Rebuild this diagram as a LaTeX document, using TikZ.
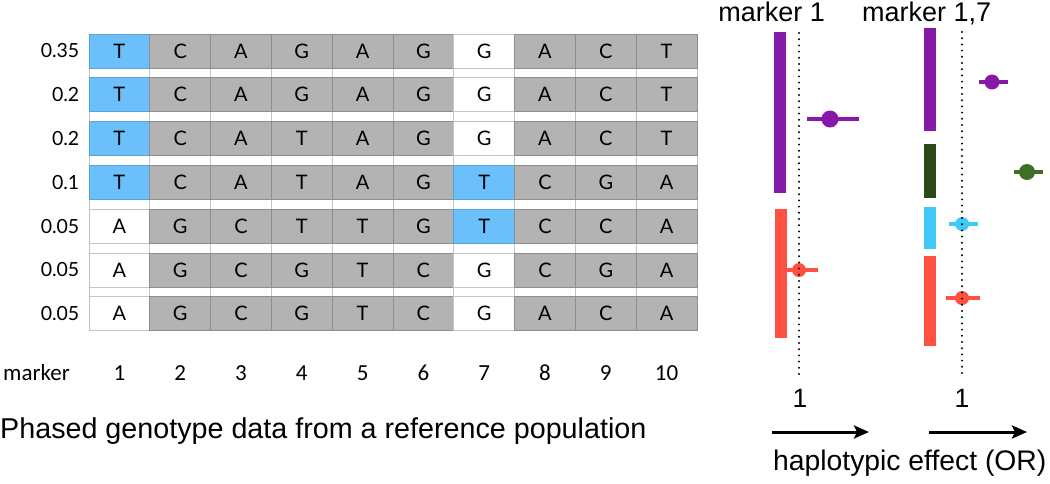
\documentclass[tikz,border=0pt]{standalone}
\usepackage{fontspec}
\setmainfont{Liberation Sans}
\newfontfamily\cellfont{Lato}
\newfontfamily\calfont{Carlito}
\usetikzlibrary{arrows.meta}
\definecolor{cgray}{HTML}{B3B3B3}
\definecolor{cgrayd}{HTML}{8E8E8E}
\definecolor{cblue}{HTML}{6BBFFA}
\definecolor{cblued}{HTML}{5AA3D6}
\definecolor{cwhited}{HTML}{C4C4C4}
\definecolor{hpurple}{HTML}{8619A8}
\definecolor{hdgreen}{HTML}{2C4A18}
\definecolor{hgreen}{HTML}{3F6E24}
\definecolor{hcyan}{HTML}{42C8F7}
\definecolor{hred}{HTML}{FF5142}
\tikzset{
  cellbase/.style={minimum width=60.8pt, minimum height=34pt, inner sep=0pt, outer sep=0pt,
    line width=0.8pt, font=\cellfont\fontsize{20}{22}\selectfont},
  cellg/.style={cellbase, fill=cgray, draw=cgrayd},
  cellb/.style={cellbase, fill=cblue, draw=cblued},
  cellw/.style={cellbase, fill=white, draw=cwhited},
  gapcell/.style={draw=cwhited, fill=white, line width=0.7pt},
  freq/.style={anchor=east, inner sep=0pt, font=\cellfont\fontsize{19.5}{21}\selectfont},
  mklab/.style={anchor=base, inner sep=0pt, font=\calfont\fontsize{23}{25}\selectfont},
  hbar/.style={minimum width=12pt, inner sep=0pt, outer sep=0pt},
  ci/.style={line width=3.5pt},
  dotline/.style={line width=2.2pt, line cap=round, dash pattern=on 0pt off 6.2pt},
  effarrow/.style={line width=3pt, -{Stealth[length=15pt, width=13pt, inset=3pt]}},
  rtext/.style={inner sep=0pt, font=\fontsize{27}{30}\selectfont}
}
\begin{document}
\begin{tikzpicture}[x=1pt, y=-1pt]
\useasboundingbox (0,0) rectangle (1050,483);

% gaps between rows
\foreach \r in {1,...,6} {
  \foreach \c in {1,...,10} {
    \draw[gapcell] ({89+60.8*(\c-1)}, {34+43.8*(\r-1)+34}) rectangle ({89+60.8*\c}, {34+43.8*\r});
  }
}

% cells
\foreach \r/\f/\seq in {
  1/0.35/{T/b,C/g,A/g,G/g,A/g,G/g,G/w,A/g,C/g,T/g},
  2/0.2/{T/b,C/g,A/g,G/g,A/g,G/g,G/w,A/g,C/g,T/g},
  3/0.2/{T/b,C/g,A/g,T/g,A/g,G/g,G/w,A/g,C/g,T/g},
  4/0.1/{T/b,C/g,A/g,T/g,A/g,G/g,T/b,C/g,G/g,A/g},
  5/0.05/{A/w,G/g,C/g,T/g,T/g,G/g,T/b,C/g,C/g,A/g},
  6/0.05/{A/w,G/g,C/g,G/g,T/g,C/g,G/w,C/g,G/g,A/g},
  7/0.05/{A/w,G/g,C/g,G/g,T/g,C/g,G/w,A/g,C/g,A/g}} {
  \node[freq] (f\r) at (79.5, {34+43.8*(\r-1)+17}) {\f};
  \foreach \L/\s [count=\c] in \seq {
    \node[cell\s] (c-\r-\c) at ({89+60.8*(\c-0.5)}, {34+43.8*(\r-1)+17}) {\L};
  }
}

% marker row
\node[anchor=base west, inner sep=0pt, font=\calfont\fontsize{23}{25}\selectfont] (mk) at (3,380) {marker};
\foreach \c in {1,...,10} {
  \node[mklab] (m\c) at ({89+60.8*(\c-0.5)}, 380) {\c};
}

% caption
\node[anchor=base west, inner sep=0pt, font=\fontsize{28.7}{31}\selectfont] (cap) at (0,438) {Phased genotype data from a reference population};

% right panel titles
\node[rtext, anchor=base east] (t1) at (825,21) {marker 1};
\node[rtext, anchor=base west] (t2) at (862,21) {marker 1,7};

% bars marker 1
\node[hbar, fill=hpurple, minimum height=161pt] (b1p) at (780,112.5) {};
\node[hbar, fill=hred, minimum height=129pt] (b1r) at (781,273.5) {};
% bars marker 1,7
\node[hbar, fill=hpurple, minimum height=103pt] (b2p) at (930,79.5) {};
\node[hbar, fill=hdgreen, minimum height=54pt] (b2g) at (930,171) {};
\node[hbar, fill=hcyan, minimum height=42pt] (b2c) at (930,228) {};
\node[hbar, fill=hred, minimum height=90pt] (b2r) at (929.5,301) {};

% point estimates with intervals
\coordinate (p1a) at (807,119); \coordinate (p1b) at (859,119);
\draw[ci, hpurple] (p1a) -- (p1b);
\node[circle, fill=hpurple, minimum size=17pt, inner sep=0pt] (p1) at (830,119) {};

\coordinate (p2a) at (787,270); \coordinate (p2b) at (818,270);
\draw[ci, hred] (p2a) -- (p2b);
\node[circle, fill=hred, minimum size=14pt, inner sep=0pt] (p2) at (799,270) {};

\coordinate (p3a) at (979,82); \coordinate (p3b) at (1008,82);
\draw[ci, hpurple] (p3a) -- (p3b);
\node[circle, fill=hpurple, minimum size=15pt, inner sep=0pt] (p3) at (992,82) {};

\coordinate (p4a) at (1014,172); \coordinate (p4b) at (1043,172);
\draw[ci, hgreen] (p4a) -- (p4b);
\node[circle, fill=hgreen, minimum size=16pt, inner sep=0pt] (p4) at (1027,172) {};

\coordinate (p5a) at (949,224); \coordinate (p5b) at (978,224);
\draw[ci, hcyan] (p5a) -- (p5b);
\node[circle, fill=hcyan, minimum size=14pt, inner sep=0pt] (p5) at (962,224) {};

\coordinate (p6a) at (946,298); \coordinate (p6b) at (980,298);
\draw[ci, hred] (p6a) -- (p6b);
\node[circle, fill=hred, minimum size=14pt, inner sep=0pt] (p6) at (962,298) {};

% reference lines at OR = 1
\coordinate (d1a) at (799,33); \coordinate (d1b) at (799,375);
\coordinate (d2a) at (962,32); \coordinate (d2b) at (962,375);
\draw[dotline] (d1a) -- (d1b);
\draw[dotline] (d2a) -- (d2b);
\node[anchor=base, inner sep=0pt, font=\fontsize{26.5}{28}\selectfont] (one1) at (800,407) {1};
\node[anchor=base, inner sep=0pt, font=\fontsize{26.5}{28}\selectfont] (one2) at (962,407) {1};

% arrows
\coordinate (a1s) at (772,432); \coordinate (a1e) at (869,432);
\coordinate (a2s) at (929,432); \coordinate (a2e) at (1027,432);
\draw[effarrow] (a1s) -- (a1e);
\draw[effarrow] (a2s) -- (a2e);

\node[rtext, anchor=base west, font=\fontsize{28.3}{30}\selectfont] (eff) at (773,470) {haplotypic effect (OR)};
\end{tikzpicture}
\end{document}
